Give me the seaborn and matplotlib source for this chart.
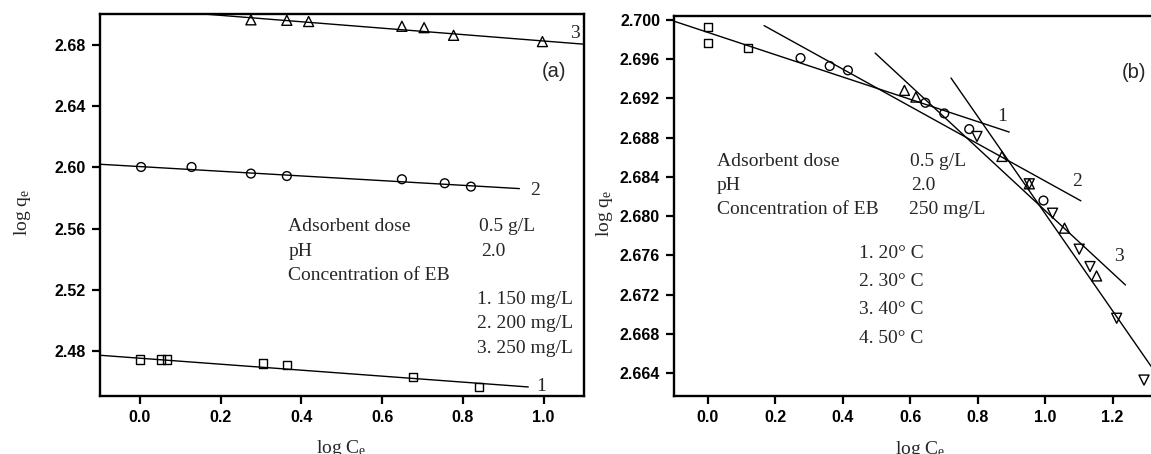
import numpy as np
import pandas as pd
import matplotlib
matplotlib.use("Agg")
import matplotlib.pyplot as plt
import seaborn as sns

# ---------------- Panel (a) data ----------------
a_x1 = [0.001, 0.052, 0.068, 0.304, 0.364, 0.677, 0.839]
a_y1 = [2.4746, 2.4746, 2.4746, 2.4720, 2.4711, 2.4633, 2.4567]
a_x2 = [0.003, 0.128, 0.275, 0.364, 0.649, 0.755, 0.820]
a_y2 = [2.6002, 2.6002, 2.5959, 2.5943, 2.5922, 2.5896, 2.5874]
a_x3 = [0.275, 0.364, 0.418, 0.649, 0.704, 0.777, 0.997]
a_y3 = [2.6962, 2.6959, 2.6951, 2.6920, 2.6911, 2.6861, 2.6820]
a_fit1_x = [-0.10, 0.962]
a_fit1_y = [2.4774, 2.4567]
a_fit2_x = [-0.10, 0.940]
a_fit2_y = [2.6020, 2.5861]
a_fit3_x = [-0.10, 1.10]
a_fit3_y = [2.7054, 2.6803]
a_labels = ["1", "2", "3"]
a_label_x = [0.981, 0.967, 1.066]
a_label_y = [2.4567, 2.5850, 2.6872]

# ---------------- Panel (b) data ----------------
b_sq_x = [0.0, 0.0, 0.120]
b_sq_y = [2.69922, 2.69762, 2.69708]
b_ci_x = [0.275, 0.3615, 0.4155, 0.645, 0.701, 0.775, 0.995]
b_ci_y = [2.69609, 2.69528, 2.69484, 2.69154, 2.69046, 2.68886, 2.68159]
b_up_x = [0.583, 0.617, 0.872, 0.953, 1.0575, 1.1525]
b_up_y = [2.69280, 2.69212, 2.68608, 2.68329, 2.67878, 2.67392]
b_dn_x = [0.798, 0.953, 1.022, 1.101, 1.133, 1.212, 1.293]
b_dn_y = [2.68811, 2.68329, 2.68030, 2.67664, 2.67487, 2.66961, 2.66332]
b_fit1_x = [-0.099, 0.8935]
b_fit1_y = [2.69983, 2.68856]
b_fit2_x = [0.167, 1.106]
b_fit2_y = [2.69939, 2.68156]
b_fit3_x = [0.496, 1.238]
b_fit3_y = [2.69660, 2.67300]
b_fit4_x = [0.721, 1.36]
b_fit4_y = [2.69406, 2.66245]
b_labels = ["1", "2", "3", "4"]
b_label_x = [0.858, 1.079, 1.203, 1.322]
b_label_y = [2.69015, 2.68353, 2.67589, 2.66709]

a_yticks = [2.48, 2.52, 2.56, 2.60, 2.64, 2.68]
a_xticks = [0.0, 0.2, 0.4, 0.6, 0.8, 1.0]
b_yticks = [2.664, 2.668, 2.672, 2.676, 2.680, 2.684, 2.688, 2.692, 2.696, 2.700]
b_xticks = [0.0, 0.2, 0.4, 0.6, 0.8, 1.0, 1.2, 1.4]

a_info_left = ["Adsorbent dose", "pH", "Concentration of EB"]
a_info_right = ["0.5 g/L", "2.0"]
a_conc = ["1. 150 mg/L", "2. 200 mg/L", "3. 250 mg/L"]
b_info_left = ["Adsorbent dose", "pH", "Concentration of EB"]
b_info_right = ["0.5 g/L", "2.0", "250 mg/L"]
b_temps = ["1. 20\u00b0 C", "2. 30\u00b0 C", "3. 40\u00b0 C", "4. 50\u00b0 C"]

sns.set_theme(style="ticks")
plt.rcParams["font.family"] = ["Liberation Serif", "DejaVu Serif"]
plt.rcParams["mathtext.fontset"] = "custom"
plt.rcParams["mathtext.rm"] = "Liberation Serif"
plt.rcParams["mathtext.it"] = "Liberation Serif:italic"

fig = plt.figure(figsize=(11.51, 4.54), dpi=100)
W, H = 1151, 454
axa = fig.add_axes([99.5 / W, 1 - 395.7 / H, (584 - 99.5) / W, (395.7 - 14) / H])
axb = fig.add_axes([674 / W, 1 - 396 / H, 506.1 / W, (396 - 15.7) / H])

serif = "Liberation Serif"
sans = "Liberation Sans"
TXT = 14
LW = 1.0


def scatter(ax, x, y, marker, s):
    sns.scatterplot(x=x, y=y, ax=ax, marker=marker, s=s, facecolor="none",
                    edgecolor="black", linewidth=1.0, zorder=3, legend=False)


def fit(ax, x, y):
    sns.lineplot(x=x, y=y, ax=ax, color="black", linewidth=LW, estimator=None,
                 sort=False, zorder=2, legend=False)


def style(ax, xlim, ylim, xticks, yticks, yfmt, ylab_x):
    ax.set_xlim(*xlim)
    ax.set_ylim(*ylim)
    ax.set_xticks(xticks)
    ax.set_yticks(yticks)
    ax.set_xticklabels([f"{v:.1f}" for v in xticks])
    ax.set_yticklabels([yfmt.format(v) for v in yticks])
    for sp in ax.spines.values():
        sp.set_linewidth(1.7)
        sp.set_color("black")
        sp.set_visible(True)
    ax.tick_params(direction="out", length=5.5, width=1.6, pad=4.5,
                   labelsize=11.5, colors="black")
    for lab in ax.get_xticklabels() + ax.get_yticklabels():
        lab.set_fontfamily(sans)
        lab.set_fontweight("bold")
    ax.set_xlabel(r"log C$_\mathrm{e}$", fontsize=TXT, family=serif)
    ax.set_ylabel(r"log q$_\mathrm{e}$", fontsize=TXT, family=serif)
    ax.xaxis.set_label_coords(0.5, -0.112)
    ax.yaxis.set_label_coords(ylab_x, 0.48)
    ax.set_facecolor("white")


# ---- Panel (a)
fit(axa, a_fit1_x, a_fit1_y)
fit(axa, a_fit2_x, a_fit2_y)
fit(axa, a_fit3_x, a_fit3_y)
scatter(axa, a_x1, a_y1, "s", 34)
scatter(axa, a_x2, a_y2, "o", 40)
scatter(axa, a_x3, a_y3, "^", 52)
for t, x, y in zip(a_labels, a_label_x, a_label_y):
    axa.text(x, y, t, fontsize=TXT, family=serif, va="center", ha="left")
a_info_y = [2.5611, 2.5453, 2.5294]
for t, y in zip(a_info_left, a_info_y):
    axa.text(0.3675, y, t, fontsize=TXT, family=serif, va="center", ha="left")
for t, x, y in zip(a_info_right, [0.8405, 0.845], a_info_y[:2]):
    axa.text(x, y, t, fontsize=TXT, family=serif, va="center", ha="left")
for t, y in zip(a_conc, [2.5139, 2.4980, 2.4817]):
    axa.text(0.8357, y, t, fontsize=TXT, family=serif, va="center", ha="left")
axa.text(1.0256, 2.6628, "(a)", fontsize=14.5, family=sans, va="center", ha="center")
style(axa, (-0.1, 1.1), (2.451, 2.700), a_xticks, a_yticks, "{:.2f}", -0.137)

# ---- Panel (b)
fit(axb, b_fit1_x, b_fit1_y)
fit(axb, b_fit2_x, b_fit2_y)
fit(axb, b_fit3_x, b_fit3_y)
fit(axb, b_fit4_x, b_fit4_y)
scatter(axb, b_sq_x, b_sq_y, "s", 34)
scatter(axb, b_ci_x, b_ci_y, "o", 40)
scatter(axb, b_up_x, b_up_y, "^", 52)
scatter(axb, b_dn_x, b_dn_y, "v", 52)
for t, x, y in zip(b_labels, b_label_x, b_label_y):
    axb.text(x, y, t, fontsize=TXT, family=serif, va="center", ha="left")
for t, y in zip(b_info_left, [2.68557, 2.68312, 2.68064]):
    axb.text(0.027, y, t, fontsize=TXT, family=serif, va="center", ha="left")
for t, x, y in zip(b_info_right, [0.599, 0.604, 0.5966], [2.68557, 2.68312, 2.68064]):
    axb.text(x, y, t, fontsize=TXT, family=serif, va="center", ha="left")
for t, y in zip(b_temps, [2.67623, 2.67334, 2.67046, 2.66757]):
    axb.text(0.4478, y, t, fontsize=TXT, family=serif, va="center", ha="left")
axb.text(1.2626, 2.69463, "(b)", fontsize=14.5, family=sans, va="center", ha="center")
style(axb, (-0.1, 1.4), (2.6617, 2.7004), b_xticks, b_yticks, "{:.3f}", -0.117)
axb.xaxis.set_label_coords(0.487, -0.112)

fig.savefig("out.png", dpi=100, facecolor="white")
